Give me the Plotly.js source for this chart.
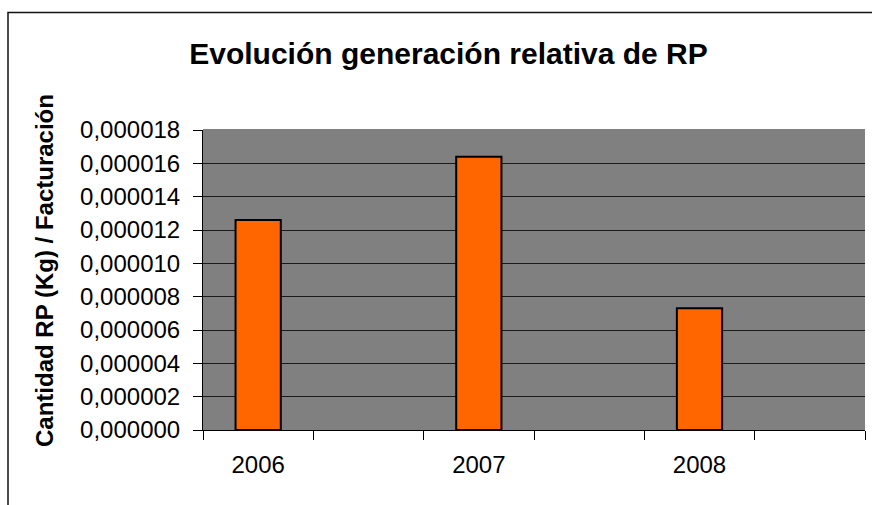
<!DOCTYPE html>
<html>
<head>
<meta charset="utf-8">
<script src="https://cdn.plot.ly/plotly-3.0.1.min.js"></script>
<style>html,body{margin:0;padding:0;background:#fff;}#chart{width:872px;height:505px;}</style>
</head>
<body>
<div id="chart"></div>
<script>
// Categories (Excel sheet had empty rows between years)
const categories = ["2006", " ", "2007", "  ", "2008", "   "];
// Series values: Cantidad RP (Kg) / Facturación
const values = [0.0000126, null, 0.0000164, null, 0.0000073, null];
const yTicks = [0, 0.000002, 0.000004, 0.000006, 0.000008, 0.00001, 0.000012, 0.000014, 0.000016, 0.000018];

const titleText = "Evolución generación relativa de RP";
const yTitleText = "Cantidad RP (Kg) / Facturación";

const W = 872, H = 505;
const L = 203, R = 7, T = 130, B = 75;
const pw = W - L - R, ph = H - T - B;
const px2x = p => (p - L) / pw;
const py2y = p => (H - B - p) / ph;

const trace = {
  type: "bar",
  x: categories,
  y: values,
  marker: { color: "#FF6600", line: { color: "#000000", width: 2 } },
  hoverinfo: "skip"
};

const font = "Liberation Sans, Arial, sans-serif";

const layout = {
  width: W, height: H,
  margin: { l: L, r: R, t: T, b: B, pad: 0 },
  paper_bgcolor: "#ffffff",
  plot_bgcolor: "#808080",
  separators: ",.",
  showlegend: false,
  bargap: 0.59,
  font: { family: font, color: "#000" },
  title: {
    text: "<b>" + titleText + "</b>",
    font: { family: font, size: 30, color: "#000" },
    xref: "container", yref: "container",
    x: 448.5 / W, y: 1 - 53 / H,
    xanchor: "center", yanchor: "middle"
  },
  xaxis: {
    type: "category",
    categoryorder: "array",
    categoryarray: categories,
    tickson: "boundaries",
    ticks: "outside", ticklen: 9, tickcolor: "#000", tickwidth: 1,
    showline: true, linecolor: "#000", linewidth: 1,
    showgrid: false,
    tickfont: { family: font, size: 24, color: "#000" },
    ticklabelstandoff: 13,
    fixedrange: true
  },
  yaxis: {
    range: [0, 0.000018],
    tickmode: "array",
    tickvals: yTicks,
    tickformat: ".6f",
    ticks: "outside", ticklen: 9, tickcolor: "#000", tickwidth: 1,
    showline: true, linecolor: "#000", linewidth: 1,
    showgrid: true, gridcolor: "#1a1a1a", gridwidth: 1,
    zeroline: false,
    tickfont: { family: font, size: 24, color: "#000" },
    ticklabelstandoff: 8,
    fixedrange: true
  },
  annotations: [{
    text: "<b>" + yTitleText + "</b>",
    xref: "paper", yref: "paper",
    x: px2x(44), y: py2y(271),
    xanchor: "center", yanchor: "middle",
    textangle: -90,
    showarrow: false,
    font: { family: font, size: 24, color: "#000" }
  }],
  shapes: [
    { type: "line", xref: "paper", yref: "paper", x0: 0, x1: 1, y0: 1, y1: 1,
      line: { color: "#808080", width: 2 }, layer: "above" },
    { type: "rect", xref: "paper", yref: "paper",
      x0: px2x(8), x1: px2x(W + 20), y0: py2y(H + 20), y1: py2y(12.5),
      line: { color: "#111", width: 1.5 }, fillcolor: "rgba(0,0,0,0)", layer: "below" }
  ]
};

Plotly.newPlot("chart", [trace], layout, { displayModeBar: false, staticPlot: true });
</script>
</body>
</html>
